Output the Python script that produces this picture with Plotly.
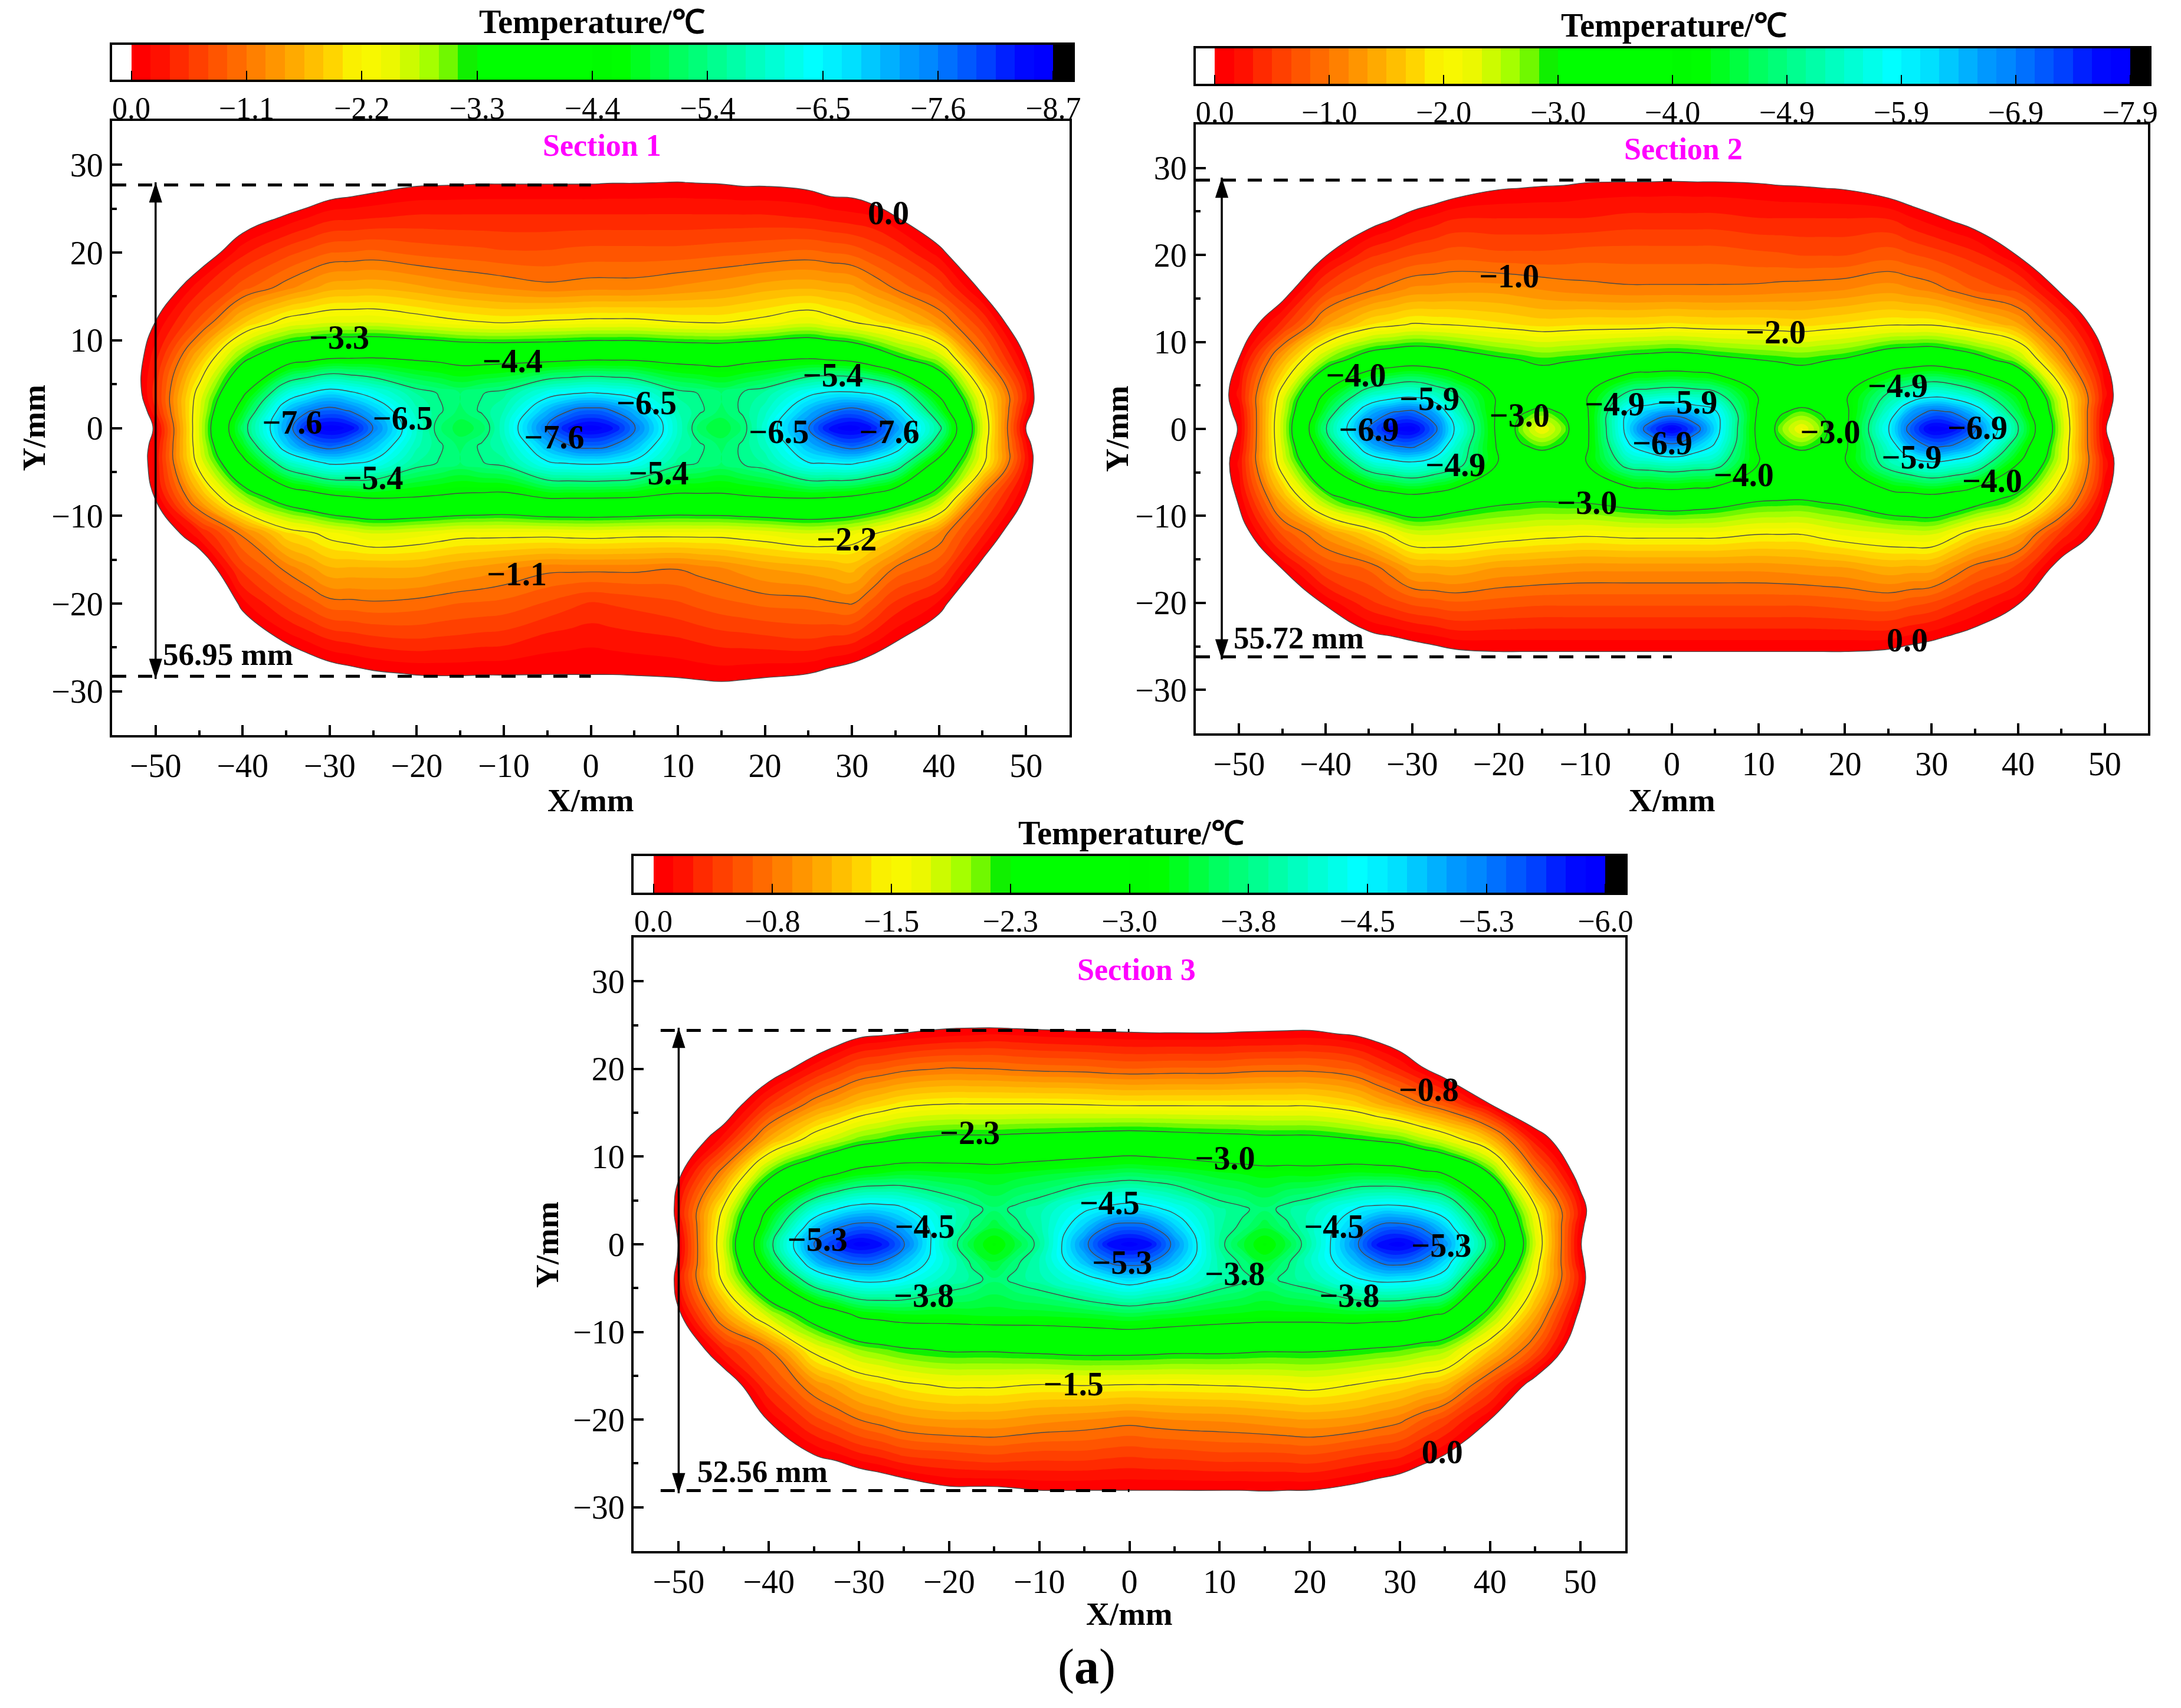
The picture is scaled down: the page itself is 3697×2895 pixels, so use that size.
import numpy as np
import plotly.graph_objects as go

W, H = 3697, 2895
FONT = "Liberation Serif"

# ---- grid -------------------------------------------------------------
X_GRID = [-55, -50, -45, -40, -35, -32.5, -30, -27.5, -25, -20, -17.5, -15, -12.5, -10, -5, -2.5, 0, 2.5, 5, 10, 12.5, 15, 17.5, 20, 25, 27.5, 30, 32.5, 35, 40, 45, 50, 55]
Y_ROWS = [32, 28, 24, 20, 16, 12, 8, 4, 2, 0, -2, -4, -8, -12, -16, -20, -24, -28, -32]
OUTSIDE = 4.0  # value of the border beyond the axes, above 0 so it stays white

# ---- Section 1 temperature (one list per X column, values per Y_ROWS) ---
S1_COLUMNS = [
    [3, 3, 2.5, 2, 1.5, 1.2, .77, 1, 1.44, .47, .79, .91, 1, 1.3, 1.8, 2.3, 2.8, 3, 3],
    [2.5, 2, 1.4, .9, .4, -.02, -.3, -.47, -.36, -.03, -.15, -.2, -.02, .4, 1, 1.5, 2, 2.5, 3],
    [1.8, 1.3, .9, .3, -.3, -.8, -1.68, -2.35, -2.48, -2.55, -2.5, -2.35, -1.49, -.31, .4, 1, 1.5, 2, 2.5],
    [1.5, .9, .25, -.31, -.83, -1.77, -3.1, -4.2, -4.75, -5.2, -4.75, -4.1, -2.8, -1.15, -.62, -.12, .45, .9, 1.4],
    [1, .6, -.05, -.65, -1.2, -2.35, -3.9, -6.1, -7, -7.3, -6.9, -5.84, -3.6, -1.95, -1.15, -.6, -.08, .45, .9],
    [.9, .45, -.18, -.78, -1.38, -2.45, -4.1, -6.5, -7.55, -8.35, -7.55, -6.25, -3.85, -2.1, -1.38, -.8, -.23, .32, .8],
    [.8, .3, -.3, -.9, -1.55, -2.53, -4.3, -6.8, -7.8, -8.65, -7.85, -6.6, -4.1, -2.3, -1.6, -1, -.38, .2, .7],
    [.75, .22, -.32, -.92, -1.58, -2.54, -4.32, -6.6, -7.55, -8.45, -7.55, -6.55, -4.25, -2.42, -1.6, -1.02, -.44, .12, .65],
    [.7, .15, -.35, -.95, -1.6, -2.55, -4.35, -6.3, -7.05, -7.6, -7.05, -6.4, -4.35, -2.55, -1.6, -1.05, -.5, .05, .6],
    [.6, .05, -.4, -.85, -1.5, -2.4, -4.25, -5.6, -5.85, -6, -5.85, -5.6, -4.3, -2.45, -1.6, -1, -.55, -.02, .5],
    [.55, .04, -.4, -.82, -1.42, -2.32, -4.2, -5.42, -5.5, -5.3, -5.5, -5.42, -4.25, -2.38, -1.52, -.95, -.52, -.03, .5],
    [.5, .03, -.4, -.8, -1.35, -2.25, -4.1, -5.25, -5.2, -4.95, -5.2, -5.25, -4.2, -2.3, -1.45, -.9, -.5, -.03, .5],
    [.5, .02, -.4, -.78, -1.3, -2.2, -4.08, -5.42, -5.5, -5.15, -5.5, -5.42, -4.15, -2.3, -1.38, -.88, -.47, -.02, .5],
    [.5, .02, -.4, -.75, -1.25, -2.17, -4.1, -5.55, -5.8, -5.96, -5.8, -5.55, -4.1, -2.3, -1.3, -.85, -.45, -.02, .5],
    [.45, .02, -.4, -.75, -1.15, -2.25, -4.1, -6.3, -7.1, -7.7, -7.1, -6.45, -4.35, -2.3, -1.15, -.7, -.3, -.01, .45],
    [.45, .02, -.4, -.78, -1.17, -2.27, -4.15, -6.45, -7.6, -8.4, -7.6, -6.55, -4.35, -2.33, -1.15, -.6, -.27, -.01, .42],
    [.45, .02, -.4, -.8, -1.2, -2.3, -4.2, -6.55, -7.8, -8.65, -7.8, -6.6, -4.35, -2.35, -1.15, -.52, -.24, -.01, .4],
    [.45, .01, -.4, -.8, -1.2, -2.3, -4.2, -6.45, -7.6, -8.4, -7.6, -6.55, -4.33, -2.33, -1.15, -.56, -.27, -.01, .4],
    [.45, .01, -.4, -.8, -1.2, -2.3, -4.2, -6.3, -7.1, -7.65, -7.1, -6.4, -4.3, -2.3, -1.15, -.6, -.3, -.02, .4],
    [.45, -.005, -.4, -.8, -1.3, -2.2, -4.1, -5.55, -5.8, -5.96, -5.8, -5.55, -4.15, -2.3, -1.1, -.7, -.35, -.05, .4],
    [.47, .01, -.4, -.82, -1.35, -2.18, -4.07, -5.42, -5.5, -5.15, -5.5, -5.42, -4.18, -2.3, -1.18, -.78, -.4, -.08, .38],
    [.5, .02, -.4, -.85, -1.4, -2.17, -4.05, -5.25, -5.2, -4.9, -5.2, -5.25, -4.2, -2.3, -1.25, -.85, -.45, -.1, .35],
    [.57, .05, -.4, -.87, -1.47, -2.23, -4.12, -5.45, -5.5, -5.3, -5.5, -5.45, -4.25, -2.35, -1.35, -.9, -.47, -.08, .38],
    [.65, .05, -.4, -.9, -1.55, -2.3, -4.2, -5.65, -5.9, -6.1, -5.9, -5.65, -4.3, -2.4, -1.45, -.95, -.5, -.05, .4],
    [.75, .1, -.35, -.95, -1.6, -2.5, -4.3, -6.4, -7.1, -7.6, -7.1, -6.5, -4.35, -2.55, -1.55, -.98, -.55, 0, .5],
    [.8, .2, -.3, -.9, -1.55, -2.35, -4.2, -6.6, -7.55, -8.45, -7.55, -6.55, -4.3, -2.5, -1.62, -1.05, -.5, .1, .62],
    [.85, .2, -.25, -.85, -1.5, -2.2, -4.1, -6.6, -7.8, -8.65, -7.85, -6.6, -4.2, -2.4, -1.7, -1.1, -.45, .2, .75],
    [1, .35, -.2, -.7, -1.28, -2.05, -3.75, -6.45, -7.5, -8.3, -7.55, -6.3, -4, -2.2, -1.4, -.8, -.25, .32, .88],
    [1.1, .5, -.02, -.55, -1.05, -1.9, -3.35, -6, -6.9, -7.4, -6.9, -5.9, -3.7, -1.95, -1.05, -.5, -.05, .45, 1],
    [1.4, .9, .4, -.1, -.65, -1.35, -2.75, -4.2, -4.9, -5.6, -5, -4.05, -2.9, -1.25, -.75, -.15, .35, .9, 1.4],
    [2, 1.5, 1.05, .55, .1, -.55, -1.15, -2.15, -2.4, -2.55, -2.4, -2.3, -.95, -.4, .15, .65, 1.1, 1.6, 2.1],
    [3, 2.5, 2, 1.5, 1, .5, .02, -.38, -.22, .01, -.22, -.28, .05, .5, 1, 1.5, 2, 2.5, 3],
    [3.5, 3, 2.5, 2, 1.5, 1.2, .8, 1.7, 1.35, .3, 1.6, 1.47, .7, 1.2, 1.5, 2, 2.5, 3, 3.5],
]

# ---- Section 2 ----------------------------------------------------------
S2_COLUMNS = [
    [3.5, 3, 2.5, 2, 1.5, 1, .6, .7, .42, .5, .6, .7, .58, 1, 1.5, 2, 2.5, 3, 3.5],
    [3, 2.5, 2, 1.5, .9, .3, -.01, -.22, -.08, -.02, -.1, -.2, -.05, .25, .8, 1.4, 2, 2.5, 3],
    [2.5, 2, 1.4, .85, .2, -.4, -1.4, -2.15, -2.35, -2.42, -2.35, -2.2, -1.45, -.7, -.02, .6, 1.1, 1.7, 2.2],
    [1.8, 1.25, .6, .02, -.6, -1.3, -2.6, -4.05, -4.5, -4.9, -4.45, -3.9, -2.7, -1.25, -.65, -.05, .5, 1, 1.6],
    [1.3, .7, .15, -.45, -.95, -1.8, -3.3, -5.3, -6.4, -7, -6.4, -5.4, -3.3, -1.75, -.85, -.45, .1, .6, 1.2],
    [1.1, .55, 0, -.55, -1.08, -1.9, -3.45, -5.55, -6.85, -7.7, -6.85, -5.65, -3.55, -2.05, -1.1, -.58, .03, .55, 1.1],
    [.9, .4, -.15, -.65, -1.2, -2, -3.55, -5.7, -7, -7.85, -7, -5.8, -3.7, -2.33, -1.39, -.7, -.05, .5, 1],
    [.82, .3, -.25, -.7, -1.22, -1.98, -3.5, -5.4, -6.55, -7.1, -6.55, -5.55, -3.6, -2.35, -1.42, -.75, -.12, .45, .95],
    [.75, .2, -.35, -.75, -1.25, -1.95, -3.35, -4.95, -5.4, -5.85, -5.45, -5.2, -3.4, -2.3, -1.45, -.8, -.2, .4, .9],
    [.6, .05, -.35, -.7, -1.25, -1.85, -3.05, -3.8, -3.8, -3.75, -3.85, -3.9, -3.15, -2.2, -1.3, -.75, -.2, .3, .8],
    [.57, .03, -.35, -.7, -1.2, -1.8, -2.95, -3.65, -3.05, -2.7, -3.05, -3.7, -3.1, -2.15, -1.28, -.72, -.2, .3, .78],
    [.55, .01, -.35, -.7, -1.15, -1.75, -2.85, -3.5, -2.8, -2.1, -2.8, -3.5, -3.05, -2.1, -1.25, -.7, -.2, .3, .75],
    [.52, 0, -.35, -.72, -1.1, -1.77, -2.9, -3.65, -3.05, -2.7, -3.05, -3.7, -3.08, -2.08, -1.22, -.7, -.2, .3, .78],
    [.5, -.04, -.35, -.75, -1.07, -1.8, -2.96, -3.85, -3.8, -3.75, -3.8, -3.9, -3.1, -2.05, -1.2, -.7, -.2, .3, .8],
    [.45, -.05, -.4, -.75, -1.03, -1.8, -3.15, -5.1, -6, -6.2, -5.85, -5.2, -3.3, -2.1, -1.2, -.7, -.2, .3, .75],
    [.45, -.05, -.4, -.75, -1.03, -1.82, -3.2, -5.25, -6.35, -7.25, -6.35, -5.3, -3.38, -2.1, -1.2, -.7, -.2, .3, .75],
    [.45, -.06, -.4, -.75, -1.03, -1.85, -3.25, -5.35, -6.6, -7.85, -6.75, -5.4, -3.45, -2.1, -1.2, -.7, -.2, .3, .75],
    [.45, -.05, -.4, -.75, -1.03, -1.82, -3.2, -5.25, -6.35, -7.25, -6.35, -5.3, -3.38, -2.1, -1.2, -.7, -.2, .3, .75],
    [.45, -.05, -.4, -.75, -1.03, -1.8, -3.1, -5.1, -6, -6.2, -5.85, -5.2, -3.3, -2.1, -1.2, -.7, -.2, .3, .75],
    [.5, -.03, -.35, -.7, -1.05, -1.8, -2.95, -3.9, -3.85, -3.75, -3.85, -3.95, -3.05, -2, -1.2, -.7, -.2, .3, .8],
    [.52, 0, -.35, -.68, -1.08, -1.77, -2.9, -3.65, -3.05, -2.7, -3.05, -3.7, -3.02, -2, -1.22, -.7, -.2, .3, .78],
    [.55, .01, -.35, -.65, -1.1, -1.75, -2.85, -3.5, -2.8, -2.1, -2.8, -3.5, -3, -2, -1.25, -.7, -.2, .3, .75],
    [.57, .03, -.35, -.65, -1.12, -1.8, -2.92, -3.65, -3.05, -2.75, -3.05, -3.7, -3.08, -2.1, -1.28, -.72, -.2, .3, .78],
    [.6, .05, -.35, -.65, -1.15, -1.85, -3, -3.85, -3.8, -3.8, -3.85, -3.9, -3.15, -2.2, -1.3, -.75, -.2, .3, .8],
    [.8, .2, -.35, -.75, -1.25, -1.95, -3.4, -5, -5.5, -5.9, -5.5, -5.2, -3.55, -2.3, -1.45, -.8, -.2, .4, .9],
    [.85, .3, -.22, -.68, -1.18, -1.95, -3.5, -5.4, -6.55, -7.1, -6.55, -5.55, -3.62, -2.35, -1.42, -.72, -.12, .45, .95],
    [.9, .4, -.1, -.6, -1.1, -1.95, -3.55, -5.7, -7, -7.85, -7, -5.8, -3.7, -2.35, -1.4, -.65, -.05, .5, 1],
    [1.1, .55, .02, -.5, -.95, -1.85, -3.4, -5.55, -6.85, -7.7, -6.85, -5.65, -3.55, -2.1, -1.15, -.5, .05, .58, 1.1],
    [1.3, .7, .15, -.4, -.8, -1.7, -3.2, -5.2, -6.3, -7, -6.4, -5.4, -3.3, -1.8, -.9, -.35, .15, .65, 1.2],
    [1.8, 1.25, .6, .02, -.6, -1.35, -2.6, -4.15, -4.55, -4.95, -4.5, -3.95, -2.75, -1.4, -.6, -.03, .55, 1.05, 1.6],
    [2.4, 1.9, 1.3, .75, .07, -.55, -1.2, -2.15, -2.35, -2.45, -2.35, -2.25, -1.55, -.45, .2, .8, 1.3, 1.9, 2.4],
    [3, 2.5, 2, 1.4, .85, .3, -.01, -.22, -.08, -.02, -.1, -.25, -.04, .2, .75, 1.4, 2, 2.5, 3],
    [3.5, 3, 2.5, 2, 1.5, 1, .3, .88, .5, .5, .6, .89, .46, .9, 1.5, 2, 2.5, 3, 3.5],
]

# ---- Section 3 ----------------------------------------------------------
S3_COLUMNS = [
    [3.5, 3, 2.5, 2, 1.5, 1, .8, 1.8, 1.57, .4, 1.6, 1.8, .8, 1.2, 1.8, 2.3, 2.8, 3, 3.5],
    [3, 2.5, 2, 1.4, .8, .3, .05, -.2, -.1, -.005, -.07, -.2, .05, .4, 1, 1.5, 2, 2.5, 3],
    [2.6, 2, 1.4, .8, .25, -.18, -.9, -1.55, -1.7, -1.78, -1.7, -1.6, -1, -.28, .25, .8, 1.4, 2, 2.5],
    [1.9, 1.35, .8, .2, -.35, -1.05, -2.15, -3.05, -3.35, -3.6, -3.35, -2.85, -1.85, -.75, -.39, -.03, .5, 1.1, 1.7],
    [1.4, .9, .35, -.2, -.85, -1.65, -2.75, -4.2, -4.8, -5.25, -4.85, -4.1, -2.5, -1.6, -.9, -.45, 0, .6, 1.1],
    [1.25, .75, .2, -.38, -1.02, -1.85, -3, -4.5, -5.2, -5.65, -5.2, -4.4, -2.8, -1.8, -1.07, -.6, -.1, .47, 1],
    [1.1, .6, .07, -.55, -1.2, -2.05, -3.2, -4.7, -5.4, -5.95, -5.35, -4.6, -3.1, -2, -1.25, -.75, -.22, .35, .9],
    [.98, .5, .03, -.62, -1.32, -2.15, -3.28, -4.7, -5.3, -5.8, -5.25, -4.6, -3.18, -2.1, -1.35, -.84, -.3, .28, .85],
    [.85, .4, -.01, -.7, -1.43, -2.25, -3.35, -4.55, -4.95, -5.3, -4.85, -4.45, -3.25, -2.2, -1.45, -.93, -.4, .2, .8],
    [.8, .45, -.08, -.77, -1.5, -2.35, -3.3, -4.05, -4.1, -3.95, -4.15, -4, -3.25, -2.3, -1.55, -1, -.45, .05, .6],
    [.78, .5, -.1, -.76, -1.5, -2.35, -3.28, -3.85, -3.7, -3.4, -3.7, -3.85, -3.28, -2.3, -1.55, -1, -.48, .05, .6],
    [.75, .57, -.12, -.75, -1.5, -2.35, -3.25, -3.65, -3.4, -3.1, -3.35, -3.65, -3.3, -2.3, -1.55, -1, -.5, .05, .6],
    [.72, .57, -.1, -.72, -1.5, -2.38, -3.3, -3.82, -3.7, -3.4, -3.7, -3.82, -3.3, -2.33, -1.52, -.97, -.47, .02, .6],
    [.7, .56, -.08, -.7, -1.5, -2.4, -3.35, -3.95, -3.95, -3.85, -4, -3.95, -3.3, -2.35, -1.5, -.93, -.45, -.01, .6],
    [.65, .62, -.05, -.68, -1.48, -2.45, -3.45, -4.45, -4.8, -5.15, -4.85, -4.35, -3.35, -2.4, -1.52, -.88, -.45, -.01, .55],
    [.65, .6, -.04, -.65, -1.46, -2.48, -3.5, -4.6, -5.25, -5.75, -5.25, -4.55, -3.4, -2.4, -1.51, -.85, -.42, -.01, .55],
    [.65, .57, -.03, -.63, -1.45, -2.5, -3.55, -4.7, -5.4, -5.95, -5.4, -4.7, -3.45, -2.4, -1.5, -.82, -.4, -.01, .55],
    [.65, .6, -.02, -.64, -1.45, -2.48, -3.5, -4.6, -5.25, -5.75, -5.25, -4.55, -3.4, -2.38, -1.5, -.85, -.42, -.01, .52],
    [.65, .6, -.02, -.65, -1.45, -2.45, -3.45, -4.4, -4.8, -5.15, -4.85, -4.4, -3.35, -2.35, -1.5, -.88, -.43, -.01, .5],
    [.65, .6, -.02, -.65, -1.45, -2.4, -3.3, -3.9, -3.9, -3.85, -3.95, -3.95, -3.25, -2.35, -1.52, -.9, -.47, -.01, .5],
    [.65, .5, -.03, -.68, -1.45, -2.38, -3.25, -3.8, -3.7, -3.4, -3.7, -3.82, -3.22, -2.33, -1.53, -.92, -.47, -.01, .5],
    [.65, .37, -.03, -.7, -1.45, -2.35, -3.2, -3.65, -3.4, -3.1, -3.35, -3.65, -3.2, -2.3, -1.55, -.95, -.47, -.02, .5],
    [.68, .4, -.04, -.7, -1.45, -2.35, -3.22, -3.85, -3.7, -3.4, -3.7, -3.82, -3.2, -2.3, -1.57, -.98, -.48, -.01, .52],
    [.7, .45, -.05, -.7, -1.45, -2.35, -3.2, -4, -4.05, -3.95, -4.1, -3.95, -3.2, -2.3, -1.6, -1, -.5, -.01, .55],
    [.8, .4, .03, -.6, -1.3, -2.25, -3.3, -4.5, -4.85, -5.15, -4.85, -4.45, -3.25, -2.25, -1.5, -.95, -.4, .08, .65],
    [.95, .55, .13, -.43, -1.12, -2.18, -3.28, -4.65, -5.3, -5.8, -5.25, -4.6, -3.22, -2.2, -1.42, -.88, -.35, .16, .72],
    [1.15, .7, .25, -.25, -.95, -2.1, -3.25, -4.65, -5.4, -5.95, -5.4, -4.6, -3.2, -2.15, -1.35, -.8, -.3, .25, .8],
    [1.35, .95, .5, -.03, -.75, -1.9, -3.12, -4.5, -5.2, -5.65, -5.2, -4.5, -3.08, -2.05, -1.25, -.62, -.15, .38, .9],
    [1.6, 1.2, .75, .2, -.55, -1.7, -3, -4.25, -4.75, -5.1, -4.7, -4.3, -2.95, -1.95, -1.15, -.45, 0, .5, 1],
    [2, 1.5, 1, .5, 0, -1.15, -2.25, -3.05, -3.35, -3.6, -3.3, -2.75, -2.1, -1.25, -.5, 0, .6, 1.1, 1.6],
    [2.5, 2, 1.5, .9, .35, -.15, -.8, -1.55, -1.7, -1.78, -1.65, -1.52, -1.05, -.55, .15, .7, 1.2, 1.8, 2.4],
    [3, 2.5, 2, 1.3, .8, .3, .15, -.17, -.07, -.01, -.08, -.2, .07, .35, 1, 1.5, 2, 2.5, 3],
    [3.5, 3, 2.5, 2, 1.5, 1, .8, 1.04, .8, .4, .92, 1.47, .8, 1.2, 1.5, 2, 2.5, 3, 3.5],
]

# ---- colour-bar values -----------------------------------------------------
S1_MAX, S2_MAX, S3_MAX = 8.7, 7.9, 6.0
S1_TICKS = ["0.0", "−1.1", "−2.2", "−3.3", "−4.4", "−5.4", "−6.5", "−7.6", "−8.7"]
S2_TICKS = ["0.0", "−1.0", "−2.0", "−3.0", "−4.0", "−4.9", "−5.9", "−6.9", "−7.9"]
S3_TICKS = ["0.0", "−0.8", "−1.5", "−2.3", "−3.0", "−3.8", "−4.5", "−5.3", "−6.0"]

BAND_COLORS = [
    "#ff0000", "#ff1000", "#ff2a00", "#ff4000", "#ff5500", "#ff6a00", "#ff8000", "#ff9500",
    "#ffaa00", "#ffbf00", "#ffd500", "#faf000", "#f8f800", "#ecf800", "#ccfb00", "#a5ff00",
    "#70f800", "#10f000", "#00ff00", "#00ff00", "#00ff00", "#00ff00", "#00ff00", "#00ff00",
    "#00fc00", "#00ff00", "#00ff20", "#00ff40", "#00ff60", "#00ff78", "#00ff90", "#00ffa8",
    "#00ffc0", "#00ffd5", "#00ffea", "#00ffff", "#00f0ff", "#00e0ff", "#00c8ff", "#00b0ff",
    "#0098ff", "#0088ff", "#0070ff", "#0058ff", "#0040ff", "#0020ff", "#0008ff", "#0000ff",
]

# ---- contour value labels ---------------------------------------------------
S1_LABEL_X = [34.2, -28.9, -9, -34.3, -21.6, -25, -4.2, 6.4, 7.8, 27.8, 21.6, 34.3, 29.4, -8.5]
S1_LABEL_Y = [24.2, 10, 7.3, .3, .8, -6, -1.4, 2.5, -5.5, 5.7, -.8, -.8, -13, -17]
S1_LABEL_T = ["0.0", "−3.3", "−4.4", "−7.6", "−6.5", "−5.4", "−7.6", "−6.5", "−5.4", "−5.4", "−6.5", "−7.6", "−2.2", "−1.1"]

S2_LABEL_X = [-18.8, 12, -36.5, -28, -17.6, -6.6, 1.8, -35, -1.1, -25, 18.3, 26.1, 35.3, 27.7, 37, 8.3, -9.8, 27.2]
S2_LABEL_Y = [17.2, 10.8, 5.8, 3.1, 1.2, 2.5, 2.7, -.4, -2, -4.5, -.7, 4.6, -.2, -3.6, -6.3, -5.6, -8.8, -24.6]
S2_LABEL_T = ["−1.0", "−2.0", "−4.0", "−5.9", "−3.0", "−4.9", "−5.9", "−6.9", "−6.9", "−4.9", "−3.0", "−4.9", "−6.9", "−5.9", "−4.0", "−4.0", "−3.0", "0.0"]

S3_LABEL_X = [33.2, -17.7, 10.6, -22.7, -34.6, -2.2, -.8, 22.7, 34.6, -22.8, 11.7, 24.4, -6.2, 34.7]
S3_LABEL_Y = [17.3, 12.4, 9.5, 1.7, .2, 4.4, -2.4, 1.7, -.5, -6.2, -3.7, -6.2, -16.3, -24]
S3_LABEL_T = ["−0.8", "−2.3", "−3.0", "−4.5", "−5.3", "−4.5", "−5.3", "−4.5", "−5.3", "−3.8", "−3.8", "−3.8", "−1.5", "0.0"]

# ---- width annotations: top y, bottom y, arrow x, dash start x, text, text x, text y --
S1_WIDTH = (27.7, -28.3, -50, -55, "56.95 mm", -41.7, -25.8)
S2_WIDTH = (28.6, -26.2, -52, -55, "55.72 mm", -43.1, -24.0)
S3_WIDTH = (24.4, -28.1, -50, -52, "52.56 mm", -40.7, -25.9)

PANELS = [
    dict(name="Section 1", cols=S1_COLUMNS, vmax=S1_MAX, ticks=S1_TICKS,
         lx=S1_LABEL_X, ly=S1_LABEL_Y, lt=S1_LABEL_T, width=S1_WIDTH,
         box=(190, 1813, 205, 1246), cb=(190, 1818, 76, 135),
         title_xy=(1003, 37), sec_xy=(1.3, 32.2), ylab_x=57, xlab_y=1356),
    dict(name="Section 2", cols=S2_COLUMNS, vmax=S2_MAX, ticks=S2_TICKS,
         lx=S2_LABEL_X, ly=S2_LABEL_Y, lt=S2_LABEL_T, width=S2_WIDTH,
         box=(2027, 3641, 211, 1243), cb=(2027, 3643, 82, 142),
         title_xy=(2837, 43), sec_xy=(1.3, 32.2), ylab_x=1893, xlab_y=1356),
    dict(name="Section 3", cols=S3_COLUMNS, vmax=S3_MAX, ticks=S3_TICKS,
         lx=S3_LABEL_X, ly=S3_LABEL_Y, lt=S3_LABEL_T, width=S3_WIDTH,
         box=(1074, 2755, 1589, 2629), cb=(1074, 2755, 1451, 1513),
         title_xy=(1917, 1412), sec_xy=(.8, 31.3), ylab_x=927, xlab_y=2735),
]

N_BANDS = len(BAND_COLORS)
LW = 4
SMOOTH = 1.3
fig = go.Figure()
annotations = []
layout = {}
x_full = [-60] + X_GRID + [60]
y_full = [-36] + Y_ROWS[::-1] + [36]


def px_x(p):
    return p / W


def px_y(p):
    return 1 - p / H


for i, p in enumerate(PANELS):
    k = i + 1
    c = i + 4
    vmax = p["vmax"]
    step = vmax / N_BANDS
    z = np.pad(np.array(p["cols"], dtype=float).T[::-1], 1, constant_values=OUTSIDE)
    # plotly gives the band below start the first entry and the band above end the last
    stops = ["#000000"] + BAND_COLORS[::-1] + ["#ffffff"]
    scale = [[j / (len(stops) - 1), col] for j, col in enumerate(stops)]
    fig.add_trace(go.Contour(
        x=x_full, y=y_full, z=z, xaxis=f"x{k}", yaxis=f"y{k}",
        colorscale=scale, showscale=False, autocontour=False, hoverinfo="skip",
        contours=dict(start=-vmax, end=1e-9, size=step, coloring="fill", showlines=False),
        line=dict(width=0, smoothing=SMOOTH),
    ))
    tick_step = vmax / 8
    fig.add_trace(go.Contour(
        x=x_full, y=y_full, z=z, xaxis=f"x{k}", yaxis=f"y{k}",
        showscale=False, autocontour=False, hoverinfo="skip",
        contours=dict(start=-7 * tick_step, end=1e-9, size=tick_step, coloring="none"),
        line=dict(color="#4a4a4a", width=1.4, smoothing=SMOOTH),
    ))
    # width dashes
    top, bot, ax_x, dash_x, w_txt, w_x, w_y = p["width"]
    for yy in (top, bot):
        fig.add_trace(go.Scatter(
            x=[dash_x, 0], y=[yy, yy], xaxis=f"x{k}", yaxis=f"y{k}", mode="lines",
            line=dict(color="black", width=5, dash="24px,20px"), hoverinfo="skip", showlegend=False))
    # double-headed width arrow
    fig.add_trace(go.Scatter(
        x=[ax_x, ax_x], y=[top + .3, bot - .3], xaxis=f"x{k}", yaxis=f"y{k}", mode="lines+markers",
        line=dict(color="black", width=3.5),
        marker=dict(symbol="arrow", size=36, color="black", angle=[0, 180], line=dict(width=0)),
        hoverinfo="skip", showlegend=False))
    fig.add_trace(go.Scatter(
        x=p["lx"], y=p["ly"], text=p["lt"], xaxis=f"x{k}", yaxis=f"y{k}", mode="text",
        textfont=dict(family=FONT, size=56, color="black", weight="bold"),
        textposition="middle center", hoverinfo="skip", showlegend=False))
    annotations.append(dict(
        x=w_x, y=w_y, xref=f"x{k}", yref=f"y{k}", text=f"<b>{w_txt}</b>", showarrow=False,
        xanchor="center", yanchor="middle", font=dict(family=FONT, size=53, color="black")))
    sx, sy = p["sec_xy"]
    annotations.append(dict(
        x=sx, y=sy, xref=f"x{k}", yref=f"y{k}", text=f"<b>{p['name']}</b>", showarrow=False,
        xanchor="center", yanchor="middle", font=dict(family=FONT, size=52, color="#ff00ff")))

    l, r, t, b = p["box"]
    axis_common = dict(showgrid=False, zeroline=False, showline=True, mirror=True, linecolor="black",
                       linewidth=LW, ticks="inside", ticklen=17, tickwidth=4, tickcolor="black",
                       tickfont=dict(family=FONT, size=56, color="black"))
    layout[f"xaxis{k}"] = dict(axis_common, domain=[px_x(l), px_x(r)], range=[-55, 55], tick0=0, dtick=10,
                               anchor=f"y{k}", tickformat="d",
                               minor=dict(ticks="inside", ticklen=8, tickwidth=4, dtick=5, tick0=0, tickcolor="black"))
    layout[f"yaxis{k}"] = dict(axis_common, domain=[px_y(b), px_y(t)], range=[-35, 35], tick0=0, dtick=10,
                               anchor=f"x{k}", tickformat="d",
                               minor=dict(ticks="inside", ticklen=8, tickwidth=4, dtick=5, tick0=0, tickcolor="black"))

    # colour bar drawn as a heatmap on its own reversed axis
    centres = [step / 2 - j * step for j in range(N_BANDS + 2)]
    bar_colors = ["#ffffff"] + BAND_COLORS + ["#000000"]
    bar_scale = [[j / (len(bar_colors) - 1), col] for j, col in enumerate(bar_colors)]
    fig.add_trace(go.Heatmap(
        x=centres, y=[0, 1], z=[list(range(len(bar_colors)))] * 2, xaxis=f"x{c}", yaxis=f"y{c}",
        colorscale=bar_scale, zmin=0, zmax=len(bar_colors) - 1, showscale=False, hoverinfo="skip"))
    cl, cr, ct, cb = p["cb"]
    layout[f"xaxis{c}"] = dict(
        domain=[px_x(cl), px_x(cr)], range=[step, -vmax - step], anchor=f"y{c}", showgrid=False, zeroline=False,
        showline=True, mirror=True, linecolor="black", linewidth=LW, ticks="inside", ticklen=15, tickwidth=2,
        tickcolor="black", tickmode="array", tickvals=[-j * tick_step for j in range(9)], ticktext=p["ticks"],
        tickangle=0, tickfont=dict(family=FONT, size=52, color="black"))
    layout[f"yaxis{c}"] = dict(
        domain=[px_y(cb), px_y(ct)], range=[0, 1], anchor=f"x{c}", showgrid=False, zeroline=False,
        showline=True, mirror=True, linecolor="black", linewidth=LW, showticklabels=False, ticks="")

    tx, ty = p["title_xy"]
    annotations.append(dict(
        x=px_x(tx), y=px_y(ty), xref="paper", yref="paper", text="<b>Temperature/℃</b>", showarrow=False,
        xanchor="center", yanchor="middle", font=dict(family=FONT, size=56, color="black")))
    annotations.append(dict(
        x=px_x(p["ylab_x"]), y=px_y((t + b) / 2), xref="paper", yref="paper", text="<b>Y/mm</b>", textangle=-90,
        xanchor="center", yanchor="middle", showarrow=False, font=dict(family=FONT, size=55, color="black")))
    annotations.append(dict(
        x=px_x((l + r) / 2), y=px_y(p["xlab_y"]), xref="paper", yref="paper", text="<b>X/mm</b>",
        xanchor="center", yanchor="middle", showarrow=False, font=dict(family=FONT, size=55, color="black")))

annotations.append(dict(
    x=px_x(1842), y=px_y(2825), xref="paper", yref="paper", text="(<b>a</b>)", showarrow=False,
    xanchor="center", yanchor="middle", font=dict(family=FONT, size=84, color="black")))

fig.update_layout(width=W, height=H, margin=dict(l=0, r=0, t=0, b=0, autoexpand=False), paper_bgcolor="white",
                  plot_bgcolor="white", showlegend=False, annotations=annotations, **layout)
fig.write_html("out.html", config=dict(displayModeBar=False, responsive=False),
               default_width=f"{W}px", default_height=f"{H}px",
               post_script="document.body.style.margin='0';document.documentElement.style.overflow='hidden';")
